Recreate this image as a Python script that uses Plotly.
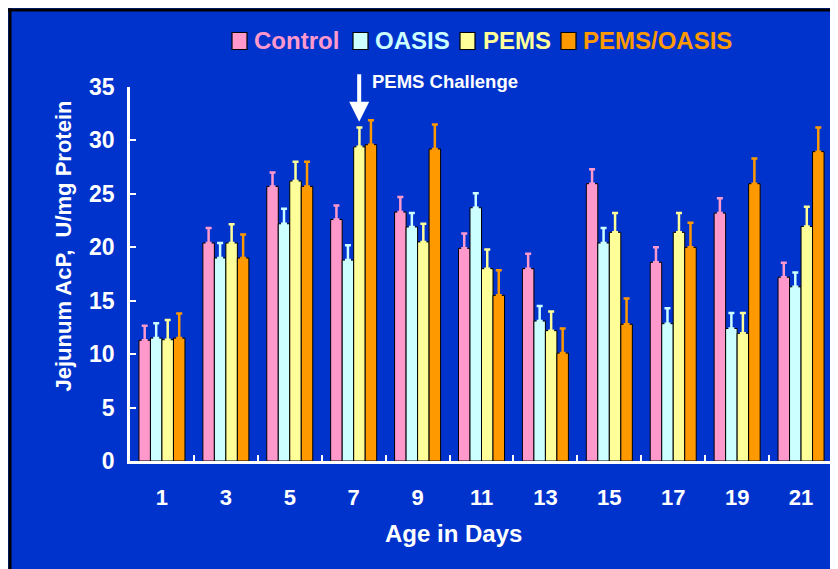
import plotly.graph_objects as go

# ---- data ----
days = ["1", "3", "5", "7", "9", "11", "13", "15", "17", "19", "21"]
series_names = ["Control", "OASIS", "PEMS", "PEMS/OASIS"]
control = [11.3, 20.4, 25.7, 22.6, 23.3, 19.9, 18.0, 25.95, 18.6, 23.2, 17.2]
control_err = [1.35, 1.4, 1.3, 1.3, 1.4, 1.4, 1.4, 1.35, 1.4, 1.4, 1.35]
oasis = [11.5, 19.0, 22.2, 18.8, 21.9, 23.7, 13.1, 20.4, 12.85, 12.4, 16.3]
oasis_err = [1.4, 1.4, 1.4, 1.4, 1.3, 1.35, 1.4, 1.4, 1.45, 1.45, 1.35]
pems = [11.35, 20.4, 26.2, 29.4, 20.5, 18.0, 12.2, 21.4, 21.4, 11.95, 21.95]
pems_err = [1.85, 1.75, 1.8, 1.8, 1.7, 1.8, 1.8, 1.8, 1.8, 1.9, 1.85]
po = [11.5, 19.0, 25.7, 29.6, 29.2, 15.5, 10.1, 12.8, 20.0, 25.95, 28.95]
po_err = [2.3, 2.2, 2.3, 2.3, 2.3, 2.35, 2.3, 2.4, 2.3, 2.35, 2.25]
y_ticks = [0, 5, 10, 15, 20, 25, 30, 35]

colors = ["#FF99CC", "#CCFFFF", "#FFFF99", "#FF9900"]
BLUE = "#0033CC"
FONT = "Liberation Sans, Arial, sans-serif"

# page has an 8px body margin; figure origin is at page (8, 8)
OFF = 8
W, H = 838, 569
# plot area in page pixels
PL, PR, PT, PB = 130, 833, 87, 461
L, R, T, B = PL - OFF, PR - OFF, PT - OFF, PB - OFF


def px_x(page_x):
    return (page_x - PL) / (PR - PL)


def px_y(page_y):
    return (PB - page_y) / (PB - PT)


fig = go.Figure()
for name, vals, errs, col in zip(series_names, [control, oasis, pems, po],
                                 [control_err, oasis_err, pems_err, po_err], colors):
    fig.add_trace(go.Bar(
        x=days, y=vals, name=name, showlegend=False,
        marker=dict(color=col, line=dict(color="black", width=1)),
        error_y=dict(type="data", array=errs, arrayminus=[0] * len(errs),
                     symmetric=False, color=col, thickness=2.5, width=3),
    ))

shapes = [
    # thin black frame at the top and left of the slide
    dict(type="rect", xref="paper", yref="paper", x0=px_x(OFF), x1=px_x(OFF + W),
         y0=px_y(11.5), y1=px_y(OFF + 0.5), fillcolor="black", line_width=0, layer="above"),
    dict(type="rect", xref="paper", yref="paper", x0=px_x(OFF + 0.5), x1=px_x(11.5),
         y0=px_y(OFF + H), y1=px_y(OFF + 0.5), fillcolor="black", line_width=0, layer="above"),
]

annotations = [
    dict(x=3, y=31.75, xref="x", yref="y", xshift=5.5, text="", showarrow=True,
         ax=0, ay=-49, arrowhead=2, arrowsize=1, arrowwidth=4, arrowcolor="white"),
    dict(x=px_x(370), y=px_y(82), xref="paper", yref="paper", xanchor="left",
         yanchor="middle", text="PEMS Challenge", showarrow=False,
         font=dict(family=FONT, size=18.5, color="white", weight="bold")),
    # axis titles (offset from the plot centre as in the reference)
    dict(x=px_x(63), y=px_y(246.5), xref="paper", yref="paper", xanchor="center",
         yanchor="middle", textangle=-90, text="Jejunum AcP,\u00a0 U/mg Protein",
         showarrow=False, font=dict(family=FONT, size=22, color="white", weight="bold")),
    dict(x=px_x(453.5), y=px_y(533), xref="paper", yref="paper", xanchor="center",
         yanchor="middle", text="Age in Days", showarrow=False,
         font=dict(family=FONT, size=24, color="white", weight="bold")),
]

# manual legend (page pixel positions of squares / texts)
leg_sq_x = [232, 353, 460, 561]
leg_txt_x = [254, 375, 483, 583]
leg_y = 41
for name, col, sx, tx in zip(series_names, colors, leg_sq_x, leg_txt_x):
    shapes.append(dict(type="rect", xref="paper", yref="paper",
                       x0=px_x(sx), x1=px_x(sx + 15), y0=px_y(leg_y + 8.5), y1=px_y(leg_y - 8.5),
                       fillcolor=col, line=dict(color="black", width=1.2), layer="above"))
    annotations.append(dict(x=px_x(tx - 2), y=px_y(leg_y), xref="paper", yref="paper",
                            xanchor="left", yanchor="middle", text=name, showarrow=False,
                            font=dict(family=FONT, size=24, color=col, weight="bold")))

fig.update_layout(
    width=W, height=H,
    margin=dict(l=L, r=W - R, t=T, b=H - B, pad=0),
    paper_bgcolor=BLUE, plot_bgcolor=BLUE,
    barmode="group", bargap=0.28, bargroupgap=0,
    font=dict(family=FONT, color="white", weight="bold"),
    showlegend=False,
    shapes=shapes, annotations=annotations,
    xaxis=dict(
        type="category", showgrid=False, zeroline=False,
        showline=True, linecolor="white", linewidth=2.5,
        ticks="inside", tickson="boundaries", ticklen=6, tickwidth=2, tickcolor="white",
        tickfont=dict(family=FONT, size=22, color="white", weight="bold"),
        ticklabelstandoff=15,
    ),
    yaxis=dict(
        range=[0, 35], tickvals=y_ticks, showgrid=False, zeroline=False,
        showline=True, linecolor="white", linewidth=2.5,
        ticks="inside", ticklen=6, tickwidth=2, tickcolor="white",
        tickfont=dict(family=FONT, size=23, color="white", weight="bold"),
        ticklabelstandoff=8,
    ),
)

fig.write_html("out.html")
